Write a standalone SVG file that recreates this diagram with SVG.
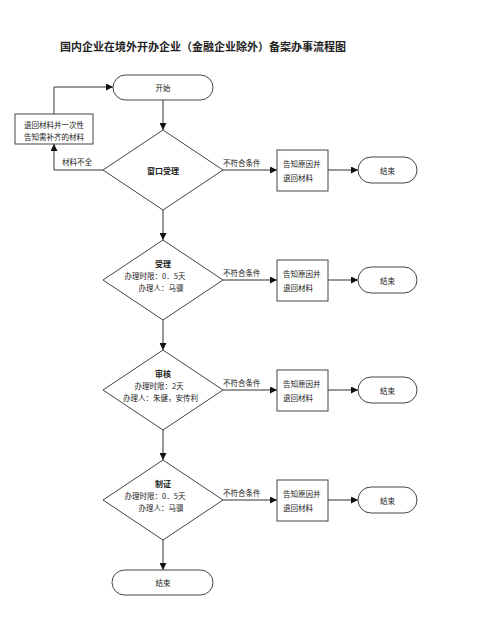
<svg xmlns="http://www.w3.org/2000/svg" width="500" height="630" viewBox="0 0 500 630">
<style>
text{font-family:"Noto Sans CJK SC","Liberation Serif",serif;fill:#222;font-size:7.5px;dominant-baseline:central}
.t{font-size:11px;font-weight:bold}
.b{font-weight:bold;font-size:8px}
.m{text-anchor:middle}
.s{fill:#fff;stroke:#444;stroke-width:1}
.c{fill:none;stroke:#333;stroke-width:1;marker-end:url(#a)}
</style>
<defs>
<marker id="a" viewBox="0 0 10 10" refX="10" refY="5" markerWidth="7" markerHeight="7" orient="auto" markerUnits="userSpaceOnUse">
<path d="M0,0 L10,5 L0,10 z" fill="#111"/>
</marker>
</defs>
<rect width="500" height="630" fill="#fff"/>
<text class="t" x="60" y="46">国内企业在境外开办企业（金融企业除外）备案办事流程图</text>

<g id="connectors">
<path class="c" d="M163,100 V130"/>
<path class="c" d="M103,170 H54 V144"/>
<path class="c" d="M54,114 V87 H113"/>
<path class="c" d="M223,170 H277"/>
<path class="c" d="M328,170 H358"/>
<path class="c" d="M163,210 V240"/>
<path class="c" d="M223,280 H277"/>
<path class="c" d="M328,280 H358"/>
<path class="c" d="M163,320 V350"/>
<path class="c" d="M223,390 H277"/>
<path class="c" d="M328,390 H358"/>
<path class="c" d="M163,430 V460"/>
<path class="c" d="M223,500 H277"/>
<path class="c" d="M328,500 H358"/>
<path class="c" d="M163,540 V570"/>
<text x="62" y="161">材料不全</text>
<text x="223" y="162">不符合条件</text>
<text x="223" y="272">不符合条件</text>
<text x="223" y="382">不符合条件</text>
<text x="223" y="492">不符合条件</text>
</g>

<g id="start"><rect class="s" x="113" y="75" width="100" height="25" rx="12.5"/><text class="m" x="163" y="87.5">开始</text></g>
<g id="notify"><rect class="s" x="15" y="114" width="78" height="30"/><text class="m" x="54" y="124">退回材料并一次性</text><text class="m" x="54" y="136">告知需补齐的材料</text></g>

<g id="d1"><polygon class="s" points="163,130 223,170 163,210 103,170"/><text class="b m" x="163" y="170">窗口受理</text></g>
<g id="r1"><rect class="s" x="277" y="150" width="51" height="41"/><text x="283" y="163">告知原因并</text><text x="283" y="177">退回材料</text></g>
<g id="e1"><rect class="s" x="358" y="157" width="59" height="26" rx="13"/><text class="m" x="387.5" y="170">结束</text></g>

<g id="d2"><polygon class="s" points="163,240 223,280 163,320 103,280"/><text class="b m" x="163" y="263">受理</text><text class="m" x="155" y="275">办理时限：0．5天</text><text class="m" x="161" y="287">办理人：马骥</text></g>
<g id="r2"><rect class="s" x="277" y="260" width="51" height="41"/><text x="283" y="273">告知原因并</text><text x="283" y="287">退回材料</text></g>
<g id="e2"><rect class="s" x="358" y="267" width="59" height="26" rx="13"/><text class="m" x="387.5" y="280">结束</text></g>

<g id="d3"><polygon class="s" points="163,350 223,390 163,430 103,390"/><text class="b m" x="163" y="373">审核</text><text class="m" x="159" y="385">办理时限：2天</text><text class="m" x="160.5" y="397">办理人：朱健，安传利</text></g>
<g id="r3"><rect class="s" x="277" y="370" width="51" height="41"/><text x="283" y="383">告知原因并</text><text x="283" y="397">退回材料</text></g>
<g id="e3"><rect class="s" x="358" y="377" width="59" height="26" rx="13"/><text class="m" x="387.5" y="390">结束</text></g>

<g id="d4"><polygon class="s" points="163,460 223,500 163,540 103,500"/><text class="b m" x="163" y="483">制证</text><text class="m" x="155" y="495">办理时限：0．5天</text><text class="m" x="161" y="507">办理人：马骥</text></g>
<g id="r4"><rect class="s" x="277" y="480" width="51" height="41"/><text x="283" y="493">告知原因并</text><text x="283" y="507">退回材料</text></g>
<g id="e4"><rect class="s" x="358" y="487" width="59" height="26" rx="13"/><text class="m" x="387.5" y="500">结束</text></g>

<g id="end"><rect class="s" x="112" y="570" width="101" height="25" rx="12.5"/><text class="m" x="163" y="582.5">结束</text></g>
</svg>
